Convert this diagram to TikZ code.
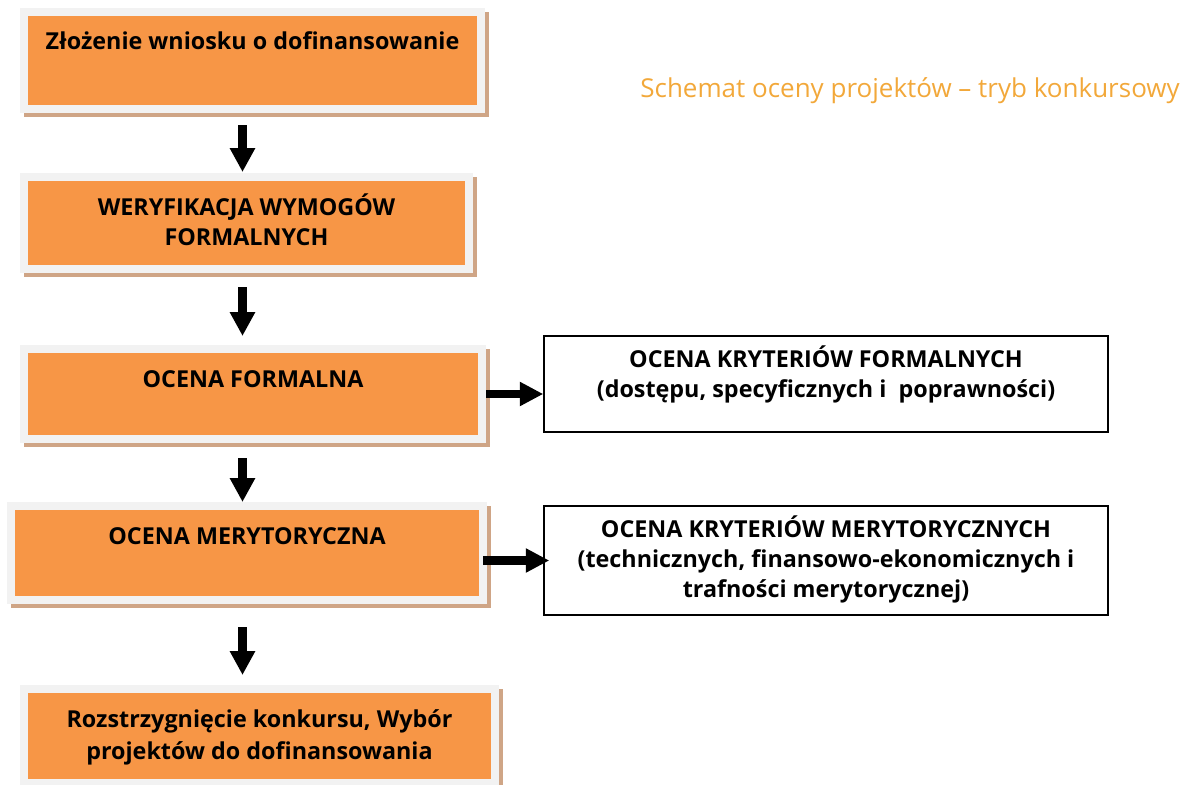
\documentclass[tikz,border=0pt]{standalone}
\usepackage{fontspec}
\setmainfont{Open Sans}
\usetikzlibrary{arrows.meta}
\definecolor{boxorange}{HTML}{F79646}
\definecolor{framegray}{HTML}{F2F2F2}
\definecolor{shadowtan}{HTML}{CFA586}
\definecolor{titleorange}{HTML}{F2A83A}
\tikzstyle{step box}=[fill=boxorange, draw=framegray, line width=6pt, inner xsep=0pt, inner ysep=0pt, text height=28.5pt, align=center, font=\fontsize{17.5}{23}\selectfont\bfseries, preaction={fill=shadowtan, draw=shadowtan, transform canvas={shift={(3pt,-3pt)}}}]
\tikzstyle{result box}=[fill=white, draw=black, line width=1.1pt, inner xsep=0pt, inner ysep=0pt, text height=23.25pt, align=center, minimum width=423pt, font=\fontsize{17.5}{22.5}\selectfont\bfseries]
\tikzstyle{down arrow}=[-{Triangle[width=18pt, length=18pt]}, line width=6.4pt, draw=black]
\tikzstyle{side arrow}=[-{Triangle[width=17pt, length=17.5pt]}, line width=6.2pt, draw=black]
\pgfdeclarelayer{nodelayer}
\pgfdeclarelayer{edgelayer}
\pgfsetlayers{main,nodelayer,edgelayer}

\begin{document}
\begin{tikzpicture}[x=0.75pt, y=-0.75pt]
	\useasboundingbox (0, 0) rectangle (1186, 785);
	\begin{pgfonlayer}{nodelayer}
		\node [style=step box, minimum width=342.75pt, text depth=44.25pt] (0) at (252.5, 60.5) {Złożenie wniosku o dofinansowanie};
		\node [style=step box, minimum width=333.75pt, text height=51.5pt, text depth=17.5pt] (1) at (246.5, 223) {WERYFIKACJA WYMOGÓW\\FORMALNYCH};
		\node [style=step box, minimum width=343.5pt, text depth=39pt] (2) at (253, 394) {OCENA FORMALNA};
		\node [style=step box, minimum width=354pt, text depth=42pt] (3) at (247, 553) {OCENA MERYTORYCZNA};
		\node [style=step box, minimum width=353.25pt, font=\fontsize{17.5}{24}\selectfont\bfseries, text height=52.5pt, text depth=18pt] (4) at (259.5, 736) {Rozstrzygnięcie konkursu, Wybór\\projektów do dofinansowania};
		\node [style=result box, text height=45.75pt, text depth=26.25pt] (5) at (826, 384) {OCENA KRYTERIÓW FORMALNYCH\\(dostępu, specyficznych i\ \ poprawności)};
		\node [style=result box, text height=68.25pt, text depth=13.5pt] (6) at (826, 560.5) {OCENA KRYTERIÓW MERYTORYCZNYCH\\(technicznych, finansowo-ekonomicznych i\\trafności merytorycznej)};
		\node [anchor=base east, inner sep=0pt, text=titleorange, font=\fontsize{19.5}{23}\selectfont] (7) at (1180, 97) {Schemat oceny projektów – tryb konkursowy};
		\coordinate (axis) at (242.5, 0);
	\end{pgfonlayer}
	\begin{pgfonlayer}{edgelayer}
		\draw [style=down arrow] ([yshift=-9pt]0.south -| axis) -- ([yshift=0.75pt]1.north -| axis);
		\draw [style=down arrow] ([yshift=-10.5pt]1.south -| axis) -- ([yshift=6.75pt]2.north -| axis);
		\draw [style=down arrow] ([yshift=-11.25pt]2.south -| axis) -- (3.north -| axis);
		\draw [style=down arrow] ([yshift=-17.25pt]3.south -| axis) -- ([yshift=7.5pt]4.north -| axis);
		\draw [style=side arrow] (2.east) -- (2.east -| 5.west);
		\draw [style=side arrow] ([xshift=-3pt]6.west -| 3.east) -- ([xshift=4.5pt]6.west);
	\end{pgfonlayer}
\end{tikzpicture}
\end{document}
